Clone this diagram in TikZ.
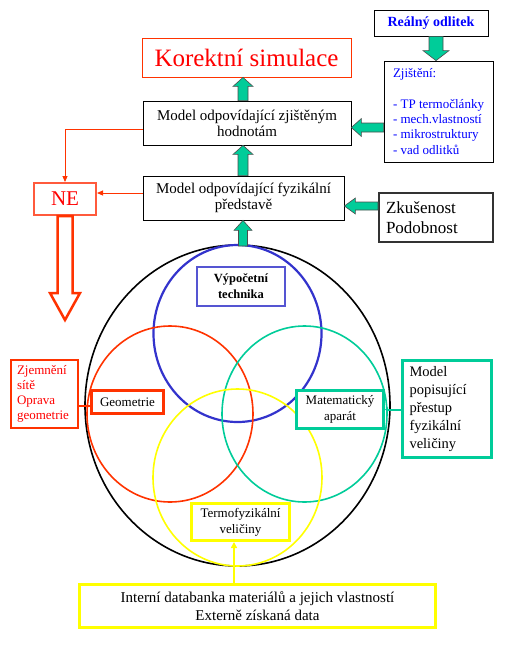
\documentclass[tikz,border=0pt]{standalone}
\usepackage{fontspec}
\setmainfont{Liberation Serif}
\usetikzlibrary{calc,arrows.meta}
\definecolor{teal2}{RGB}{0,204,153}
\definecolor{red2}{RGB}{255,51,0}
\definecolor{blue2}{RGB}{51,51,204}
\definecolor{blue3}{RGB}{85,85,210}
\definecolor{yel}{RGB}{255,255,0}
\definecolor{btext}{RGB}{0,0,255}
\definecolor{nered}{RGB}{255,90,60}
\newcommand{\fs}[2]{\fontsize{#1}{#2}\selectfont}
\newcommand{\blkarr}[6]{%
  \coordinate (ba-s) at (#1);
  \coordinate (ba-t) at (#2);
  \coordinate (ba-m) at ($(ba-t)!#5pt!(ba-s)$);
  \draw[#6] ($(ba-s)!#3pt!90:(ba-t)$) -- ($(ba-m)!#3pt!-90:(ba-s)$) -- ($(ba-m)!#4pt!-90:(ba-s)$) -- (ba-t) -- ($(ba-m)!#4pt!90:(ba-s)$) -- ($(ba-m)!#3pt!90:(ba-s)$) -- ($(ba-s)!#3pt!-90:(ba-t)$) -- cycle;}
\tikzset{
  box/.style={draw, fill=white, line width=0.8pt, inner sep=2pt, align=center},
  garr/.style={fill=teal2, draw=black!70, line width=0.6pt},
  harr/.style={fill=white, draw=red2, line width=2.5pt, line join=miter},
  rline/.style={draw=red2, line width=1pt},
  ring/.style={line width=1.6pt},
}
\begin{document}
\begin{tikzpicture}[x=1pt,y=-1pt]
\useasboundingbox (0,0) rectangle (512,646);
\coordinate (ax) at (243,0);
% circles
\draw[ring, black] (237.5,405.5) ellipse [x radius=152.5pt, y radius=160.5pt];
\draw[ring, blue2, line width=2.2pt] (237.5,333.5) ellipse [x radius=84pt, y radius=88.5pt];
\draw[ring, red2] (170,414) ellipse [x radius=83pt, y radius=88pt];
\draw[ring, teal2] (304.5,414) ellipse [x radius=82.5pt, y radius=88pt];
\draw[ring, yel] (237.5,477.5) ellipse [x radius=84.5pt, y radius=88.5pt];
\coordinate (ctop) at (243,246);
% nodes
\node[box, minimum width=114pt, minimum height=26pt, font=\fs{14}{16}\bfseries, text=btext] (real) at (431,23) {Reálný odlitek};
\node[box, minimum width=109pt, minimum height=101pt, align=left, font=\fs{13}{15.3}, text=btext] (zj) at (438.5,111.5) {Zjištění:\\[15.3pt]- TP termočlánky\\- mech.vlastností\\- mikrostruktury\\- vad odlitků};
\node[box, draw=red2, minimum width=209pt, minimum height=39pt, font=\fs{25}{27}, text=red] (kor) at (246.5,57.5) {Korektní simulace};
\node[box, minimum width=208pt, minimum height=44pt, font=\fs{15}{16}] (m1) at (247,123) {Model odpovídající zjištěným\\hodnotám};
\node[box, minimum width=201pt, minimum height=44pt, font=\fs{15}{16}] (m2) at (243.5,198) {Model odpovídající fyzikální\\představě};
\node[box, draw=black!80, line width=2pt, minimum width=114pt, minimum height=49pt, inner xsep=7pt, text width=100pt, align=left, font=\fs{17}{20}] (zk) at (436,217.5) {Zkušenost\\Podobnost};
\node[box, draw=nered, line width=2pt, minimum width=62pt, minimum height=32pt, font=\fs{21}{22}, text=red] (ne) at (65,199) {NE};
\node[box, draw=blue3, line width=2pt, minimum width=88pt, minimum height=39pt, font=\fs{12.5}{16}\bfseries] (vyp) at (241,286.5) {Výpočetní\\technika};
\node[box, draw=red2, line width=3pt, minimum width=72pt, minimum height=23pt, font=\fs{13}{15}] (geo) at (127.5,402) {Geometrie};
\node[box, draw=teal2, line width=3pt, minimum width=87pt, minimum height=38pt, font=\fs{13}{16}] (mat) at (340,409.5) {Matematický\\aparát};
\node[box, draw=teal2, line width=3pt, minimum width=89pt, minimum height=97pt, inner xsep=6pt, text width=75pt, align=left, font=\fs{14.5}{18}] (mp) at (447,409) {Model\\popisující\\přestup\\fyzikální\\veličiny};
\node[box, draw=red2, line width=2pt, minimum width=67pt, minimum height=68pt, inner xsep=5pt, text width=55pt, align=left, font=\fs{13}{15}, text=red] (zjem) at (44.5,394) {Zjemnění\\sítě\\Oprava\\geometrie};
\node[box, draw=yel, line width=3pt, minimum width=98pt, minimum height=37pt, font=\fs{13}{16}] (termo) at (240.5,522) {Termofyzikální\\veličiny};
\node[box, draw=yel, line width=3pt, minimum width=356pt, minimum height=43pt, font=\fs{15}{18}] (int) at (257.5,606) {Interní databanka materiálů a jejich vlastností\\Externě získaná data};
% block arrows
\coordinate (ra) at ($(real.south)+(5,0)$);
\blkarr{ra}{ra |- zj.north}{7}{13}{10}{garr}
\blkarr{m1.north -| ax}{kor.south -| ax}{5}{10}{9}{garr}
\blkarr{m2.north -| ax}{m1.south -| ax}{5}{10}{9}{garr}
\blkarr{ctop}{m2.south -| ax}{4.5}{9}{10}{garr}
\coordinate (za) at ($(zj.west)+(0,16)$);
\blkarr{za}{za -| m1.east}{4.5}{9}{10}{garr}
\coordinate (zka) at ($(zk.west)+(0,-11.5)$);
\blkarr{zka}{zka -| m2.east}{4}{8}{11}{garr}
\blkarr{ne.south}{$(ne.south)+(0,104)$}{7.5}{15}{27}{harr}
% thin connectors
\draw[rline, -{Triangle[length=6pt,width=5pt]}] ($(m1.west)+(0,6)$) -| (ne.north);
\coordinate (q) at ($(m2.west)+(0,-5)$);
\draw[rline, -{Triangle[length=6pt,width=5pt]}] (q) -- (q -| ne.east);
\coordinate (q2) at ($(geo.west)+(0,4)$);
\draw[red2, line width=1.2pt] (q2) -- (q2 -| zjem.east);
\draw[teal2, line width=2pt, {Triangle[length=3pt,width=5pt]}-] (mat.east) -- (mat.east -| mp.west);
\coordinate (q3) at ($(termo.south)+(-6.5,0)$);
\draw[yel, line width=2pt, -{Triangle[length=6pt,width=6pt]}] (q3 |- int.north) -- (q3);
\end{tikzpicture}
\end{document}
